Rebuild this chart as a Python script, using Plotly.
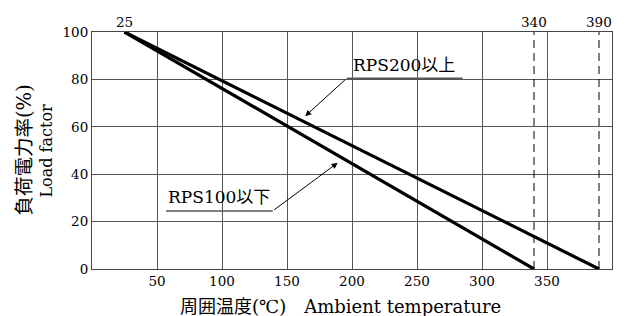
import plotly.graph_objects as go

# Data
rps100_x = [25, 340]
rps100_y = [100, 0]
rps200_x = [25, 390]
rps200_y = [100, 0]
limit_temps = [340, 390]
top_labels = [25, 340, 390]
x_ticks = [50, 100, 150, 200, 250, 300, 350, 400]
y_ticks = [0, 20, 40, 60, 80, 100]

FONT = "DejaVu Serif, Noto Sans CJK JP"
TICK = 13.5

fig = go.Figure()
fig.add_trace(go.Scatter(x=rps100_x, y=rps100_y, mode="lines",
                         line=dict(color="black", width=3.2), showlegend=False))
fig.add_trace(go.Scatter(x=rps200_x, y=rps200_y, mode="lines",
                         line=dict(color="black", width=3.2), showlegend=False))

for t in limit_temps:
    fig.add_shape(type="line", x0=t, x1=t, y0=0, y1=100, xref="x", yref="y",
                  line=dict(color="black", width=1, dash="8px,5px"))

for t in top_labels:
    fig.add_annotation(x=t, y=1, xref="x", yref="paper", yanchor="bottom",
                       text=str(t), showarrow=False, yshift=0,
                       font=dict(family=FONT, size=TICK, color="black"))

# RPS200以上 label
fig.add_shape(type="line", x0=196, x1=285, y0=80.5, y1=80.5, xref="x", yref="y",
              line=dict(color="#555", width=1.5))
fig.add_annotation(x=240, y=81.2, xref="x", yref="y", yanchor="bottom",
                   text="RPS200以上", showarrow=False,
                   font=dict(family=FONT, size=17, color="black"))
fig.add_annotation(x=164, y=64.5, ax=196, ay=80.5, xref="x", yref="y",
                   axref="x", ayref="y", text="", showarrow=True,
                   arrowhead=2, arrowsize=1.2, arrowwidth=1, arrowcolor="black")

# RPS100以下 label
fig.add_shape(type="line", x0=57, x1=139, y0=24.5, y1=24.5, xref="x", yref="y",
              line=dict(color="#555", width=1.5))
fig.add_annotation(x=98, y=25.2, xref="x", yref="y", yanchor="bottom",
                   text="RPS100以下", showarrow=False,
                   font=dict(family=FONT, size=17, color="black"))
fig.add_annotation(x=189, y=44.8, ax=139, ay=24.5, xref="x", yref="y",
                   axref="x", ayref="y", text="", showarrow=True,
                   arrowhead=2, arrowsize=1.2, arrowwidth=1, arrowcolor="black")

# Axis titles
fig.add_annotation(x=0.478, y=0, xref="paper", yref="paper", yanchor="top",
                   yshift=-25, text="周囲温度(℃)　Ambient temperature", showarrow=False,
                   font=dict(family=FONT, size=18, color="black"))
fig.add_annotation(x=0, y=0.5, xref="paper", yref="paper", xanchor="center",
                   xshift=-68, text="負荷電力率(%)", showarrow=False, textangle=-90,
                   font=dict(family=FONT, size=19.5, color="black"))
fig.add_annotation(x=0, y=0.5, xref="paper", yref="paper", xanchor="center",
                   xshift=-46, text="Load factor", showarrow=False, textangle=-90,
                   font=dict(family=FONT, size=16, color="black"))

fig.update_xaxes(range=[0, 400], tickvals=x_ticks, ticks="", showgrid=True,
                 gridcolor="#555", gridwidth=1, showline=True, linecolor="#444",
                 linewidth=1, mirror=True, zeroline=False, automargin=False,
                 tickfont=dict(family=FONT, size=TICK, color="black"))
fig.update_yaxes(range=[0, 100], tickvals=y_ticks, ticks="", showgrid=True,
                 gridcolor="#555", gridwidth=1, showline=True, linecolor="#444",
                 linewidth=1, mirror=True, zeroline=False, automargin=False,
                 tickfont=dict(family=FONT, size=TICK, color="black"))

fig.update_layout(width=616, height=308, plot_bgcolor="white", paper_bgcolor="white",
                  font=dict(family=FONT),
                  margin=dict(l=84, r=12, t=24, b=47))

fig.write_html("out.html")
